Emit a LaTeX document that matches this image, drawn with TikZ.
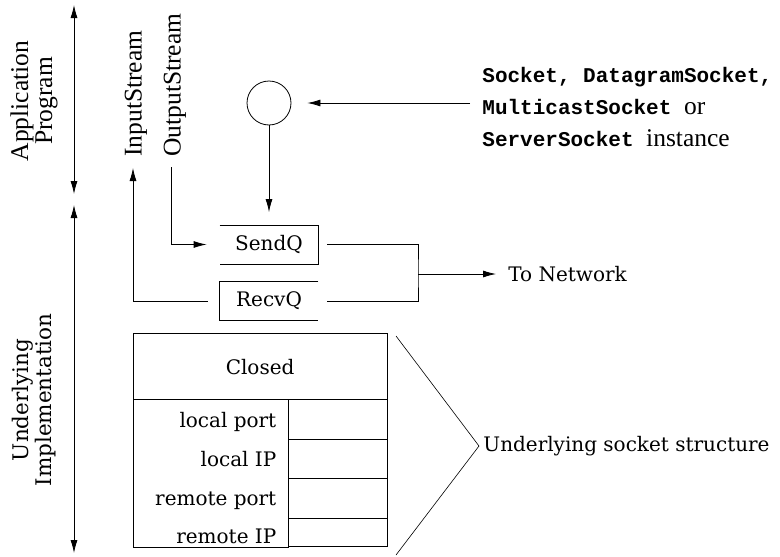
\documentclass[tikz,border=0pt]{standalone}
\usepackage{fontspec}
\setmainfont{DejaVu Serif}
\newfontfamily\tms{Liberation Serif}
\newfontfamily\mono{Liberation Mono}
\usetikzlibrary{arrows.meta}
\newcommand\tmstext[1]{{\tms\mdseries\fontsize{25.5}{24}\selectfont #1}}
\begin{document}
\begin{tikzpicture}[x=1pt,y=-1pt, line width=0.8pt,
  >={Latex[length=13pt,width=7pt]},
  lbl/.style={inner sep=0pt, font=\fontsize{20}{24}\selectfont},
  tlbl/.style={inner sep=0pt, font=\tms\fontsize{25.5}{24}\selectfont},
  mlbl/.style={inner sep=0pt, font=\mono\bfseries\fontsize{21}{24}\selectfont},
  qbox/.style={minimum width=98pt, minimum height=38pt, inner sep=0pt, font=\fontsize{20}{24}\selectfont},
  cell/.style={draw, minimum width=98.4pt, minimum height=39.4pt, inner sep=0pt, anchor=north west}]
\useasboundingbox (0,0) rectangle (780,557);

% side arrows and labels
\coordinate (apTop) at (74,5);
\coordinate (apBot) at (74,194);
\draw[<->] (apTop) -- (apBot);
\coordinate (uiTop) at (74,205);
\coordinate (uiBot) at (74,553);
\draw[<->] (uiTop) -- (uiBot);
\node[tlbl, rotate=90, align=center] (aplbl) at (34,101) {Application\\Program};
\node[lbl, rotate=90, align=center, font=\fontsize{21.5}{23}\selectfont] (uilbl) at (34,400) {Underlying\\Implementation};

% streams
\node[tlbl, rotate=90, anchor=west] (instream) at (136,157) {InputStream};
\node[tlbl, rotate=90, anchor=west] (outstream) at (175,157) {OutputStream};

% socket instance
\node[circle, draw, minimum size=44pt, inner sep=0pt] (sock) at (269,103) {};
\node[mlbl, anchor=base west] (s1) at (482,82) {Socket, DatagramSocket,};
\node[mlbl, anchor=base west] (s2) at (482,114) {MulticastSocket \tmstext{or}};
\node[mlbl, anchor=base west] (s3) at (482,146) {ServerSocket \tmstext{instance}};
\coordinate (instsrc) at (470,103);
\draw[->, shorten >=16pt] (instsrc) -- (sock.east);

% queues
\node[qbox] (sendq) at (269,244.5) {SendQ};
\node[qbox] (recvq) at (269,301) {RecvQ};
\draw (sendq.north west) -- (sendq.north east) -- (sendq.south east) -- (sendq.south west);
\draw (recvq.north east) -- (recvq.north west) -- (recvq.south west) -- (recvq.south east);
\draw[->, shorten >=13pt] (sock.south) -- (sock.south |- sendq.north);

\coordinate (outTop) at (171,167);
\draw[->] (outTop) |- ([xshift=-13pt]sendq.west);
\coordinate (inTip) at (133,168);
\draw[->] ([xshift=-12pt]recvq.west) -| (inTip);

\coordinate (join) at (418,274);
\draw ([xshift=9pt]sendq.east) -| (join) |- ([xshift=9pt]recvq.east);
\node[lbl, anchor=west] (tonet) at (508,274) {To Network};
\draw[->, shorten >=12pt] (join) -- (tonet.west);

% socket structure
\node[draw, minimum width=254pt, minimum height=66pt, inner sep=0pt, anchor=north west, lbl] (closed) at (132.7,333.3) {Closed};
\node[draw, minimum width=155.6pt, minimum height=147.7pt, inner sep=0pt, anchor=north west] (fields) at (132.7,399.3) {};
\node[cell] (c1) at (288.3,399.3) {};
\node[cell] (c2) at (288.3,438.7) {};
\node[cell] (c3) at (288.3,478.1) {};
\node[cell, minimum height=28.9pt] (c4) at (288.3,517.5) {};
\node[lbl, anchor=base east] (f1) at (276.7,427) {local port};
\node[lbl, anchor=base east] (f2) at (276.7,466) {local IP};
\node[lbl, anchor=base east] (f3) at (276.7,505) {remote port};
\node[lbl, anchor=base east] (f4) at (276.7,543) {remote IP};

% bracket
\coordinate (brTop) at (396,336);
\coordinate (brApex) at (479,446);
\coordinate (brBot) at (396,555);
\draw[line width=0.6pt] (brTop) -- (brApex) -- (brBot);
\node[lbl, anchor=west] (structlbl) at (483,446) {Underlying socket structure};
\end{tikzpicture}
\end{document}
